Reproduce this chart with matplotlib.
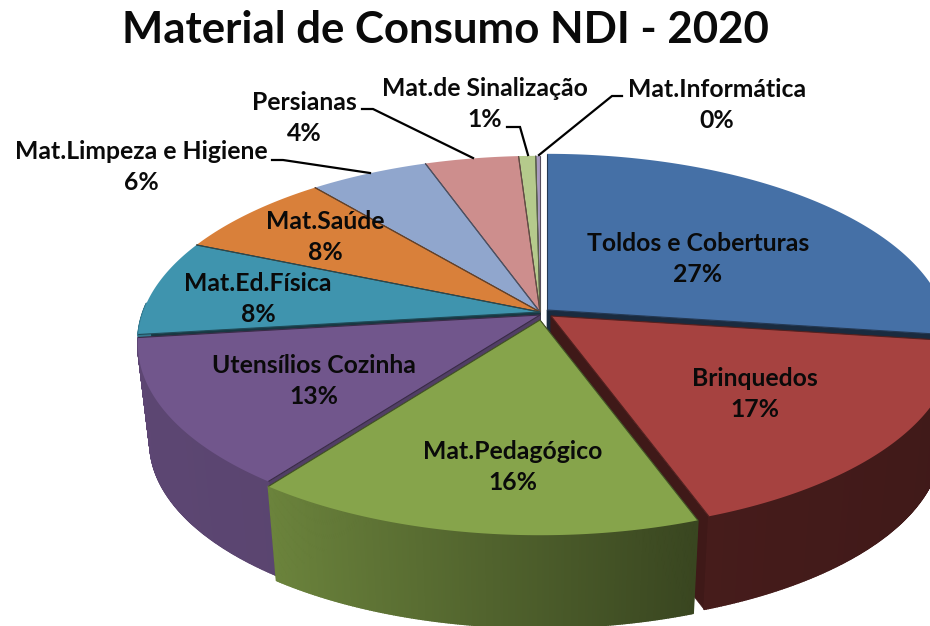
import numpy as np
import matplotlib
matplotlib.use("Agg")
import matplotlib.pyplot as plt
from matplotlib.collections import PolyCollection
from matplotlib.colors import to_rgb

# ---- data ----
categories = ["Toldos e Coberturas", "Brinquedos", "Mat.Pedagógico", "Utensílios Cozinha",
              "Mat.Ed.Física", "Mat.Saúde", "Mat.Limpeza e Higiene", "Persianas",
              "Mat.de Sinalização", "Mat.Informática"]
values = [27.2, 17.4, 15.7, 12.9, 8.4, 7.6, 5.6, 4.4, 0.8, 0.2]
title = "Material de Consumo NDI - 2020"

# ---- styles ----
colors = ["#4570a6", "#a64240", "#86a44b", "#71568c", "#3f94ae",
          "#d9803a", "#90a6cd", "#cd8e8d", "#b5ca8c", "#a99bc0"]
apex = [(547, 310), (551, 316), (540, 320), (540, 315), (540, 312),
        (540, 312), (540, 312), (540, 312), (540, 312), (540, 312)]
draw_order = [9, 8, 7, 6, 5, 4, 0, 3, 1, 2]
label_pos = [(698, 259), (755, 394), (513, 467), (314, 381), (258, 299),
             (325, 237), (141, 167), (304, 118), (485, 104), (717, 105)]
leaders = [None, None, None, None, None, None,
           [(272, 160), (283, 160), (370, 173)],
           [(362, 109), (373, 109), (473, 158)],
           [(507, 127), (520, 127), (528, 155)],
           [(622, 96), (612, 96), (539, 155)]]
A, B, P = 397.0, 181.0, 0.159      # ellipse half axes and perspective
SHRINK, DEPTH = 0.97, 99.0

plt.rcParams["font.family"] = ["Lato", "DejaVu Sans"]
fig = plt.figure(figsize=(9.3, 6.26), dpi=100, facecolor="white")
ax = fig.add_axes([0, 0, 1, 1])
ax.set_xlim(0, 930)
ax.set_ylim(626, 0)
ax.axis("off")


def top_pt(theta, c):
    u, v = np.sin(theta), np.cos(theta)
    s = 1.0 / (1.0 + P * v)
    return c[0] + A * u * s, c[1] - B * v * s


def low(x, y, c):
    return c[0] + (x - c[0]) * SHRINK, c[1] + (y - c[1]) * SHRINK + DEPTH


def shade(u):
    return np.interp(u, [-1, -0.6, 0.35, 1], [0.82, 0.80, 0.42, 0.38])


total = sum(values)
ends = np.cumsum(values) / total * 2 * np.pi
starts = np.concatenate([[0], ends[:-1]])

for i in draw_order:
    c = apex[i]
    rgb = np.array(to_rgb(colors[i]))
    t = np.linspace(starts[i], ends[i], max(int(values[i] * 6), 4))
    xs, ys = top_pt(t, c)
    bx, by = low(xs, ys, c)
    lc = low(c[0], c[1], c)
    # radial walls
    for k in (0, -1):
        ax.fill([c[0], xs[k], bx[k], lc[0]], [c[1], ys[k], by[k], lc[1]],
                color=tuple(rgb * (0.72 if i == 3 else 0.38)), lw=0.5, zorder=1)
    # outer wall, shaded strip by strip
    polys, cols = [], []
    tt = np.linspace(starts[i], ends[i], max(int(values[i] * 12), 6))
    xt, yt = top_pt(tt, c)
    bxt, byt = low(xt, yt, c)
    for j in range(len(tt) - 1):
        if np.cos((tt[j] + tt[j + 1]) / 2) < 0.05:
            polys.append([(xt[j], yt[j]), (xt[j + 1], yt[j + 1]), (bxt[j + 1], byt[j + 1]), (bxt[j], byt[j])])
            cols.append(tuple(rgb * shade(np.sin((tt[j] + tt[j + 1]) / 2))))
    if polys:
        ax.add_collection(PolyCollection(polys, facecolors=cols, edgecolors=cols, linewidths=1.2))
    # top surface
    ax.fill(np.r_[c[0], xs], np.r_[c[1], ys], color=colors[i], lw=0)
    for k in (0, -1):
        ax.plot([c[0], xs[k]], [c[1], ys[k]], color=tuple(rgb * 0.5), lw=0.8,
                solid_capstyle="butt")

for name, v, pos, lead in zip(categories, values, label_pos, leaders):
    ax.text(pos[0], pos[1], f"{name}\n{v:.0f}%", ha="center", va="center",
            fontsize=17.8, fontweight="bold", color="#0a0a0a", linespacing=1.45)
    if lead:
        ax.plot(*zip(*lead), color="black", lw=1.6, solid_joinstyle="miter")

ax.text(445, 30, title, ha="center", va="center", fontsize=31.5,
        fontweight="bold", color="#0a0a0a")

fig.savefig("out.png", dpi=100)
